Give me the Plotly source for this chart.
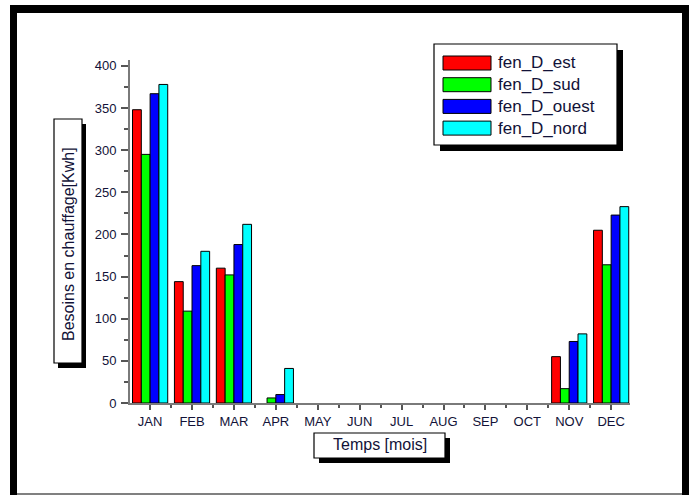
import plotly.graph_objects as go

# data
mois = ['JAN', 'FEB', 'MAR', 'APR', 'MAY', 'JUN', 'JUL', 'AUG', 'SEP', 'OCT', 'NOV', 'DEC']
fen_D_est = [348, 144, 160, 0, 0, 0, 0, 0, 0, 0, 55, 205]
fen_D_sud = [295, 109, 152, 6, 0, 0, 0, 0, 0, 0, 17, 164]
fen_D_ouest = [367, 163, 188, 10, 0, 0, 0, 0, 0, 0, 73, 223]
fen_D_nord = [378, 180, 212, 41, 0, 0, 0, 0, 0, 0, 82, 233]

series = [('fen_D_est', fen_D_est, '#ff0000'),
          ('fen_D_sud', fen_D_sud, '#00ff00'),
          ('fen_D_ouest', fen_D_ouest, '#0000ff'),
          ('fen_D_nord', fen_D_nord, '#00ffff')]

W, H = 689, 495
L, R, T, B = 130, 630, 60, 403
FONT = 'Liberation Sans, Arial, sans-serif'
TXT = '#121238'

#pixel -> paper helpers
def px(x):
    return (x - L) / (R - L)

def py(y):
    return (B - y) / (B - T)

fig = go.Figure()
xs = list(range(len(mois)))
for name, vals, col in series:
    # no outline on empty bars so nothing shows on the axis
    lw = [1 if v > 0 else 0 for v in vals]
    fig.add_trace(go.Bar(x=xs, y=vals, name=name,
                         marker=dict(color=col, line=dict(color='#000000', width=lw)),
                         showlegend=False))

shapes = []

def rect(x0, y0, x1, y1, fill, line=None, lw=0):
    shapes.append(dict(type='rect', xref='paper', yref='paper',
                       x0=px(x0), x1=px(x1), y0=py(y1), y1=py(y0),
                       fillcolor=fill, line=dict(color=line or fill, width=lw)))

#outer frame
rect(10, 5, 689, 13, '#000000')
rect(10, 5, 17, 495, '#000000')
rect(682, 5, 689, 495, '#000000')
rect(17, 493, 682, 495, '#808080')

#boxes with drop shadow: y title, x title, legend
rect(58, 124, 86, 368, '#000000')
rect(54, 119, 82, 363, '#ffffff', '#000000', 1.2)
rect(319, 438, 450, 463, '#000000')
rect(314, 433, 445, 458, '#ffffff', '#000000', 1.2)
rect(440, 50, 623, 151, '#000000')
rect(434, 44, 617, 145, '#ffffff', '#000000', 1.2)

annotations = [
    dict(text='Besoins en chauffage[Kwh]', x=px(68), y=py(244), textangle=-90,
         font=dict(family=FONT, size=16, color=TXT)),
    dict(text='Temps [mois]', x=px(380), y=py(445),
         font=dict(family=FONT, size=16, color=TXT)),
]

#legend drawn by hand to get the wide swatches
for i, (name, vals, col) in enumerate(series):
    yc = 63 + i * 21.7
    rect(443, yc - 7, 491, yc + 7, col, '#000000', 1)
    annotations.append(dict(text=name, x=px(496), y=py(yc), xanchor='left',
                            font=dict(family=FONT, size=17, color=TXT)))

for a in annotations:
    a.update(xref='paper', yref='paper', showarrow=False)
    a.setdefault('xanchor', 'center')
    a.setdefault('yanchor', 'middle')

fig.update_layout(
    width=W, height=H,
    margin=dict(l=L, r=W - R, t=T, b=H - B, pad=0),
    paper_bgcolor='white', plot_bgcolor='white',
    barmode='group', bargap=0.16, bargroupgap=0,
    shapes=shapes, annotations=annotations,
    xaxis=dict(range=[-0.48, 11.45], tickmode='array', tickvals=xs, ticktext=mois,
               showline=True, linecolor='#7a7a7a', linewidth=2,
               ticks='outside', ticklen=5, tickwidth=1.5, tickcolor='#555555',
               minor=dict(tickmode='array', tickvals=[i + 0.5 for i in range(11)],
                          ticks='outside', ticklen=3, tickwidth=1.5, tickcolor='#555555'),
               showgrid=False, zeroline=False,
               tickfont=dict(family=FONT, size=13, color=TXT)),
    yaxis=dict(range=[0, 407], dtick=50, tick0=0,
               showline=True, linecolor='#7a7a7a', linewidth=2,
               ticks='outside', ticklen=7, tickwidth=1.5, tickcolor='#555555',
               minor=dict(dtick=25, ticks='outside', ticklen=4, tickwidth=1.5, tickcolor='#555555'),
               showgrid=False, zeroline=False, ticklabelstandoff=2,
               tickfont=dict(family=FONT, size=13, color=TXT)),
)

fig.write_html("out.html", config={'displayModeBar': False},
               post_script="document.body.style.margin='0';document.body.style.overflow='hidden';")
